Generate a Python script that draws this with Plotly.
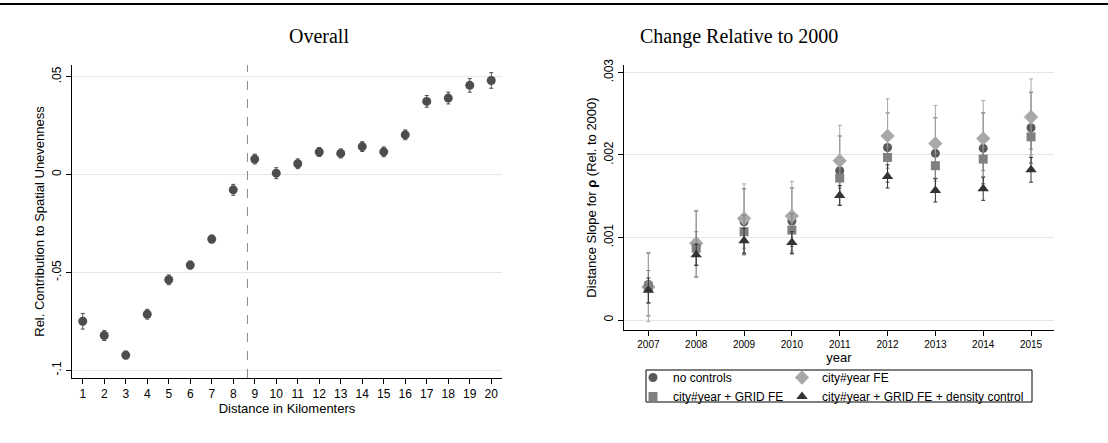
import plotly.graph_objects as go

km = list(range(1, 21))
overall = [-0.075, -0.0823, -0.0923, -0.0714, -0.0538, -0.0463, -0.033, -0.0078, 0.0079, 0.0007,
           0.0055, 0.0115, 0.0108, 0.0143, 0.0116, 0.0203, 0.0374, 0.0391, 0.0456, 0.0481]
overall_ci = [0.004, 0.0025, 0.002, 0.0025, 0.0025, 0.002, 0.002, 0.0028, 0.0025, 0.0028,
              0.0025, 0.0023, 0.0023, 0.0025, 0.0025, 0.0025, 0.003, 0.003, 0.0035, 0.004]

years = list(range(2007, 2016))
no_controls = [0.00043, 0.00092, 0.00119, 0.0012, 0.00181, 0.00209, 0.00202, 0.00208, 0.00233]
city_fe = [0.0004, 0.00093, 0.00123, 0.00126, 0.00193, 0.00223, 0.00214, 0.0022, 0.00246]
grid_fe = [0.0004, 0.00087, 0.00107, 0.00109, 0.00172, 0.00197, 0.00187, 0.00195, 0.00222]
density = [0.00036, 0.00079, 0.00096, 0.00094, 0.00151, 0.00174, 0.00157, 0.00159, 0.00182]
ci_no = [0.00038, 0.0004, 0.0004, 0.0004, 0.00042, 0.00042, 0.00043, 0.00043, 0.00043]
ci_city = [0.00042, 0.0004, 0.00042, 0.00042, 0.00043, 0.00045, 0.00046, 0.00046, 0.00046]
ci_grid = [0.0002, 0.0002, 0.0002, 0.0002, 0.00012, 0.00013, 0.00015, 0.00014, 0.00015]
ci_dens = [0.00015, 0.00013, 0.00015, 0.00013, 0.00012, 0.00014, 0.00014, 0.00014, 0.00015]

fig = go.Figure()
fig.add_trace(go.Scatter(x=km, y=overall, mode="markers", showlegend=False,
                         marker=dict(color="#4d4d4d", size=9),
                         error_y=dict(type="data", array=overall_ci, color="#4d4d4d", thickness=1, width=2),
                         xaxis="x", yaxis="y"))

series = [("no controls", no_controls, ci_no, "circle", "#595959", 9, "legend"),
          ("city#year FE", city_fe, ci_city, "diamond", "#a8a8a8", 11, "legend2"),
          ("city#year + GRID FE", grid_fe, ci_grid, "square", "#808080", 9, "legend"),
          ("city#year + GRID FE + density control", density, ci_dens, "triangle-up", "#333333", 10, "legend2")]
for name, ys, ci, sym, col, sz, lg in series:
    fig.add_trace(go.Scatter(x=years, y=ys, mode="markers", name=name, legend=lg,
                             marker=dict(color=col, size=sz, symbol=sym),
                             error_y=dict(type="data", array=ci, color=col, thickness=1, width=2),
                             xaxis="x2", yaxis="y2"))

W, H = 1108, 443
def px(p): return p / W
def py(p): return 1 - p / H

ax_common = dict(showline=True, linecolor="black", linewidth=1, ticks="outside",
                 tickcolor="black", ticklen=5, zeroline=False,
                 tickfont=dict(family="Liberation Sans", size=12, color="black"))
leg_common = dict(orientation="v", xanchor="left", yanchor="top", borderwidth=0,
                  bgcolor="rgba(0,0,0,0)", tracegroupgap=0, itemwidth=30,
                  font=dict(family="Liberation Sans", size=12))
fig.update_layout(
    width=W, height=H, margin=dict(l=0, r=0, t=0, b=0, autoexpand=False),
    paper_bgcolor="white", plot_bgcolor="white",
    font=dict(family="Liberation Sans", color="black"),
    xaxis=dict(domain=[px(72), px(502)], range=[0.5, 20.5], tickvals=km, showgrid=False,
               title=dict(text="Distance in Kilomenters", standoff=0, font=dict(size=13)),
               anchor="y", **ax_common),
    yaxis=dict(domain=[py(378), py(65)], range=[-0.104, 0.056],
               tickvals=[-0.1, -0.05, 0, 0.05], ticktext=["-.1", "-.05", "0", ".05"],
               tickangle=-90, showgrid=True, gridcolor="#e6e6e6",
               title=dict(text="Rel. Contribution to Spatial Unevenness", standoff=2, font=dict(size=13)),
               anchor="x", **ax_common),
    xaxis2=dict(domain=[px(624), px(1054)], range=[2006.49, 2015.48], tickvals=years, showgrid=False,
                title=dict(text="year", standoff=0, font=dict(size=13)),
                anchor="y2", **{**ax_common, "tickfont": dict(family="Liberation Sans", size=10, color="black")}),
    yaxis2=dict(domain=[py(330), py(65)], range=[-0.000121, 0.00309],
                tickvals=[0, 0.001, 0.002, 0.003], ticktext=["0", ".001", ".002", ".003"],
                tickangle=-90, showgrid=True, gridcolor="#e6e6e6",
                title=dict(text="Distance Slope for <b>ρ</b> (Rel. to 2000)", standoff=2, font=dict(size=13)),
                anchor="x2", **ax_common),
    legend=dict(x=px(633), y=py(363), **leg_common),
    legend2=dict(x=px(782), y=py(363), **leg_common),
    shapes=[dict(type="line", xref="paper", yref="paper", x0=0, x1=1, y0=py(4), y1=py(4),
                 line=dict(color="black", width=2)),
            dict(type="line", xref="x", yref="paper", x0=8.66, x1=8.66, y0=py(378), y1=py(65),
                 line=dict(color="#888888", width=1, dash="dash")),
            dict(type="rect", xref="paper", yref="paper", x0=px(646), x1=px(1032), y0=py(402), y1=py(370),
                 line=dict(color="black", width=1))],
    annotations=[dict(text="Overall", x=px(287), y=py(36), xref="paper", yref="paper", showarrow=False,
                      yanchor="middle", font=dict(family="Liberation Serif", size=20)),
                 dict(text="Change Relative to 2000", x=px(840), y=py(36), xref="paper", yref="paper",
                      yanchor="middle", showarrow=False, font=dict(family="Liberation Serif", size=20))],
)
fig.write_html("out.html", config={"displayModeBar": False},
               post_script="document.body.style.margin='0';")
